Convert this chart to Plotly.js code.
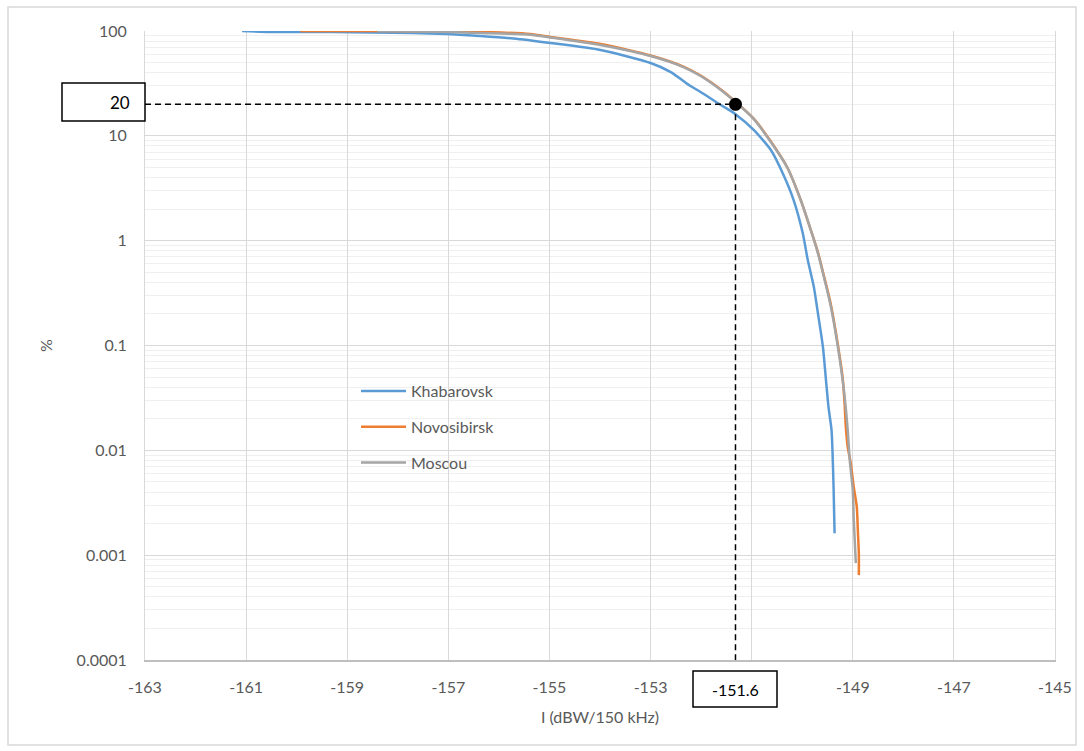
<!DOCTYPE html>
<html>
<head>
<meta charset="utf-8">
<script src="https://cdn.plot.ly/plotly-3.0.1.min.js"></script>
<style>html,body{margin:0;padding:0;background:#fff;}#chart{width:1084px;height:751px;}</style>
</head>
<body>
<div id="chart"></div>
<script>
// ---- Data ----
const seriesNames = ["Khabarovsk", "Novosibirsk", "Moscou"];

const khabarovskX = [-161.08, -160.52, -159.34, -157.69, -157.02, -156.37, -155.71, -154.98, -153.99, -153.00,
  -152.60, -152.21, -152.01, -151.61, -151.32, -150.96, -150.62, -150.37, -150.17, -149.99,
  -149.89, -149.77, -149.69, -149.59, -149.53, -149.48, -149.42, -149.40, -149.38, -149.36];
const khabarovskY = [100, 97.8, 97.8, 95.7, 93.6, 89.6, 84.8, 76.8, 65.9, 49.5,
  40.6, 29.9, 26.2, 19.7, 16.1, 11.4, 7.32, 4.23, 2.44, 1.181,
  0.653, 0.361, 0.204, 0.0965, 0.0467, 0.0258, 0.0156, 0.0094, 0.00445, 0.00162];

const novosibirskX = [-159.93, -158.41, -157.02, -156.31, -155.38, -154.98, -153.99, -153.00, -152.35, -152.01,
  -151.61, -151.32, -150.96, -150.62, -150.29, -150.03, -149.83, -149.69, -149.59, -149.44,
  -149.30, -149.20, -149.16, -149.14, -149.10, -149.04, -148.98, -148.92, -148.90, -148.88, -148.88];
const novosibirskY = [100, 100, 98.9, 97.8, 93.6, 87.7, 75.1, 58.4, 45.8, 37.6,
  27.7, 21.2, 14.6, 8.82, 4.93, 2.44, 1.262, 0.778, 0.502, 0.254,
  0.1054, 0.0489, 0.0270, 0.0174, 0.01073, 0.00755, 0.00445, 0.00287, 0.00173, 0.00104, 0.000645];

const moscouX = [-158.41, -157.02, -156.37, -155.38, -154.98, -153.99, -153.00, -152.35, -152.01, -151.61,
  -151.32, -150.96, -150.62, -150.29, -150.03, -149.83, -149.69, -149.59, -149.44, -149.30,
  -149.20, -149.14, -149.10, -149.06, -149.00, -148.98, -148.94];
const moscouY = [100, 97.8, 95.7, 92.2, 86.7, 73.5, 57.7, 45.3, 37.2, 27.4,
  21.0, 14.5, 8.72, 4.93, 2.44, 1.262, 0.762, 0.491, 0.243, 0.1009,
  0.0467, 0.0258, 0.0156, 0.00806, 0.00417, 0.00216, 0.00084];

// reference point (dashed guides)
const guideX = [-151.32];
const guideY = [20];
const guideXLabel = "-151.6";
const guideYLabel = "20";

// axes (the -151 tick label is hidden behind the "-151.6" box in the reference)
const xTickVals = [-163, -161, -159, -157, -155, -153, -151, -149, -147, -145];
const xTickText = ["-163", "-161", "-159", "-157", "-155", "-153", "", "-149", "-147", "-145"];
const yTickVals = [0.0001, 0.001, 0.01, 0.1, 1, 10, 100];
const yTickText = ["0.0001", "0.001", "0.01", "0.1", "1", "10", "100"];
const xRange = [-163, -145];
const yRangeLog = [-4, 2];
const xTitle = "I (dBW/150 kHz)";
const yTitle = "%";

// minor log grid values (2..9 per decade)
const yMinorVals = [];
for (let e = -4; e < 2; e++) for (let m = 2; m <= 9; m++) yMinorVals.push(m * Math.pow(10, e));

const colors = ["#5B9BD5", "#ED7D31", "#A5A5A5"];
const FONT = "Lato, 'Open Sans', sans-serif";
const TXT = "#595959";

const W = 1084, H = 751;
const mL = 145, mR = 29, mT = 31, mB = 91;
const pw = W - mL - mR, ph = H - mT - mB;
const px = v => (v - mL) / pw;
const py = v => (H - mB - v) / ph;

const traces = [
  {x: khabarovskX, y: khabarovskY, name: seriesNames[0], legendgroup: "a"},
  {x: novosibirskX, y: novosibirskY, name: seriesNames[1], legendgroup: "b"},
  {x: moscouX, y: moscouY, name: seriesNames[2], legendgroup: "c"}
].map((t, i) => Object.assign(t, {
  type: "scatter", mode: "lines",
  line: {color: colors[i], width: 2.5, shape: "spline", smoothing: 0.6},
  hoverinfo: "x+y+name"
}));

// dashed guides + dot
traces.push({
  type: "scatter", mode: "lines", showlegend: false, hoverinfo: "skip",
  x: [xRange[0], guideX[0]], y: [guideY[0], guideY[0]],
  line: {color: "#000", width: 1.5, dash: "6px,4px"}
});
traces.push({
  type: "scatter", mode: "lines", showlegend: false, hoverinfo: "skip",
  x: [guideX[0], guideX[0]], y: [guideY[0], Math.pow(10, yRangeLog[0])],
  line: {color: "#000", width: 1.5, dash: "6px,4px"}
});
traces.push({
  type: "scatter", mode: "markers", showlegend: false, hoverinfo: "skip",
  x: guideX, y: guideY,
  marker: {color: "#000", size: 13}
});

const layout = {
  width: W, height: H,
  margin: {l: mL, r: mR, t: mT, b: mB, pad: 0},
  paper_bgcolor: "#fff", plot_bgcolor: "#fff",
  font: {family: FONT, size: 16, color: TXT},
  showlegend: true,
  legend: {
    x: px(356), y: py(374), xanchor: "left", yanchor: "top",
    bgcolor: "rgba(0,0,0,0)", borderwidth: 0,
    traceorder: "grouped", tracegroupgap: 12, itemwidth: 45,
    font: {family: FONT, size: 16, color: TXT}
  },
  xaxis: {
    type: "linear", range: xRange, autorange: false,
    tickmode: "array", tickvals: xTickVals, ticktext: xTickText,
    ticks: "", ticklabelstandoff: 12,
    showgrid: true, gridcolor: "#d9d9d9", gridwidth: 1,
    showline: true, linecolor: "#bfbfbf", linewidth: 1.5,
    zeroline: false,
    tickfont: {family: FONT, size: 16, color: TXT},
    title: {text: xTitle, standoff: 17, font: {family: FONT, size: 16, color: TXT}}
  },
  yaxis: {
    type: "log", range: yRangeLog, autorange: false,
    tickmode: "array", tickvals: yTickVals, ticktext: yTickText,
    ticks: "", ticklabelstandoff: 14,
    showgrid: true, gridcolor: "#d9d9d9", gridwidth: 1,
    minor: {tickmode: "array", tickvals: yMinorVals, showgrid: true, gridcolor: "#efefef", gridwidth: 1, ticks: ""},
    showline: true, linecolor: "#d9d9d9", linewidth: 1, mirror: true,
    zeroline: false,
    tickfont: {family: FONT, size: 16, color: TXT},
    title: {text: yTitle, standoff: 20, font: {family: FONT, size: 16, color: TXT}}
  },
  shapes: [
    {type: "rect", xref: "paper", yref: "paper", layer: "below",
     x0: px(8), x1: px(1076), y0: py(745), y1: py(7),
     line: {color: "#d9d9d9", width: 1.5}, fillcolor: "rgba(0,0,0,0)"},
    {type: "rect", xref: "paper", yref: "paper", layer: "above",
     x0: px(62), x1: px(145), y0: py(121), y1: py(83),
     line: {color: "#000", width: 1.5}, fillcolor: "#fff"},
    {type: "rect", xref: "paper", yref: "paper", layer: "above",
     x0: px(693), x1: px(777), y0: py(707), y1: py(671),
     line: {color: "#000", width: 1.5}, fillcolor: "#fff"}
  ],
  annotations: [
    {xref: "paper", yref: "paper", x: px(132), y: py(102), xanchor: "right", yanchor: "middle",
     text: guideYLabel, showarrow: false, font: {family: FONT, size: 17, color: "#000"}},
    {xref: "paper", yref: "paper", x: px(735), y: py(689), xanchor: "center", yanchor: "middle",
     text: guideXLabel, showarrow: false, font: {family: FONT, size: 16, color: "#000"}}
  ]
};

Plotly.newPlot("chart", traces, layout, {displayModeBar: false, staticPlot: true});
</script>
</body>
</html>
